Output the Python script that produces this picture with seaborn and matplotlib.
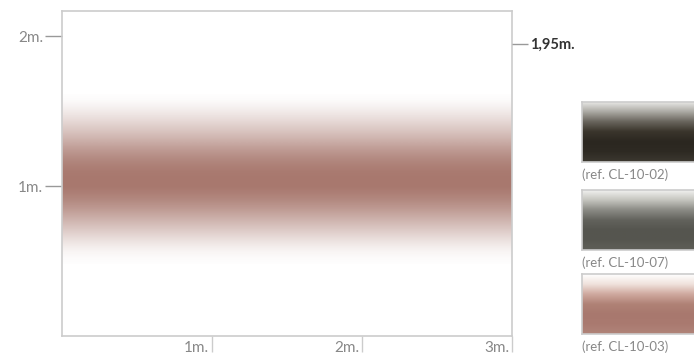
import numpy as np
import seaborn as sns
import matplotlib.pyplot as plt
from matplotlib.colors import LinearSegmentedColormap
from matplotlib.transforms import offset_copy

# band profile: heights (m) and tint strength (0 = white, 1 = full colour)
band_heights = [0.45, 0.50, 0.55, 0.60, 0.65, 0.70, 0.75, 0.80, 0.85, 0.90,
                0.95, 1.00, 1.05, 1.10, 1.15, 1.20, 1.25, 1.30, 1.35, 1.40,
                1.45, 1.50, 1.55, 1.60, 1.65]
band_tint = [0.00, 0.03, 0.08, 0.17, 0.28, 0.40, 0.52, 0.64, 0.76, 0.86,
             0.94, 1.00, 1.00, 0.98, 0.93, 0.85, 0.75, 0.63, 0.51, 0.40,
             0.29, 0.19, 0.10, 0.03, 0.00]
band_color = "#a8786e"

x_ticks = [1, 2, 3]
x_labels = ["1m.", "2m.", "3m."]
y_ticks = [1, 2]
y_labels = ["1m.", "2m."]
height_mark = 1.95
height_label = "1,95m."
x_max = 3.0
y_max = 2.167

# swatches, colour stops from top to bottom
swatch_refs = ["(ref. CL-10-02)", "(ref. CL-10-07)", "(ref. CL-10-03)"]
swatch_colors = [
    ["#ededeb", "#aeaca6", "#6a665e", "#3a352c", "#2b2720", "#2e2a23", "#3c3830"],
    ["#f1f1ef", "#c4c4be", "#8a8a84", "#62625c", "#55554f", "#56564f", "#5f5f58"],
    ["#ffffff", "#f0e2dc", "#cfa99f", "#b08276", "#a8786e", "#aa7a70", "#b08479"],
]

sns.set_style("white")
plt.rcParams["font.family"] = ["Lato", "DejaVu Sans"]

W, H = 694, 361
fig = plt.figure(figsize=(W / 100, H / 100), dpi=100)

ax = fig.add_axes([62 / W, 25 / H, 450 / W, 325 / H])
band_cmap = LinearSegmentedColormap.from_list("band", ["#ffffff", band_color])
tint = np.array(band_tint).reshape(-1, 1)
ax.imshow(tint, cmap=band_cmap, vmin=0, vmax=1, origin="lower",
          extent=[0, x_max, band_heights[0], band_heights[-1]],
          aspect="auto", interpolation="bilinear")
ax.set_xlim(0, x_max)
ax.set_ylim(0, y_max)

for s in ax.spines.values():
    s.set_color("#cccccc")
    s.set_linewidth(1.2)

ax.set_yticks(y_ticks)
ax.set_yticklabels(y_labels)
ax.tick_params(axis="y", direction="out", length=12, width=1, color="#999999",
               labelsize=11, labelcolor="#888888", pad=1.5, left=True)
ax.set_xticks(x_ticks)
ax.set_xticklabels([])
ax.tick_params(axis="x", direction="out", length=11.5, width=1, color="#cccccc",
               bottom=True)
xt = offset_copy(ax.get_xaxis_transform(), fig=fig, x=-3, y=-5, units="dots")
for xv, lab in zip(x_ticks, x_labels):
    ax.text(xv, 0, lab, transform=xt, ha="right", va="top",
            fontsize=11, color="#888888")

ax2 = ax.twinx()
ax2.set_ylim(0, y_max)
for s in ax2.spines.values():
    s.set_visible(False)
ax2.set_yticks([height_mark])
ax2.set_yticklabels([height_label], fontweight="bold")
ax2.tick_params(axis="y", direction="out", length=11.5, width=1, color="#999999",
                labelsize=10.5, labelcolor="#333333", pad=1.5, right=True)

# swatches on the right
tops = [102, 190, 274]
for top, colors, ref in zip(tops, swatch_colors, swatch_refs):
    sax = fig.add_axes([582 / W, (H - top - 60) / H, 140 / W, 60 / H])
    cmap = LinearSegmentedColormap.from_list("sw", colors[::-1])
    sax.imshow(np.linspace(0, 1, 256).reshape(-1, 1), cmap=cmap, origin="lower",
               aspect="auto", extent=[0, 1, 0, 1])
    sax.set_xticks([])
    sax.set_yticks([])
    for s in sax.spines.values():
        s.set_color("#cccccc")
        s.set_linewidth(1.2)
    fig.text(582 / W, (H - top - 73) / H, ref, ha="left", va="center",
             fontsize=9.5, color="#888888")

fig.savefig("out.png", dpi=100)
